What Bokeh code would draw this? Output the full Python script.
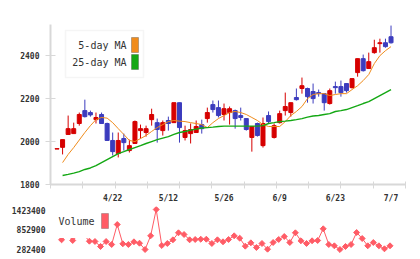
import numpy as np
from bokeh.plotting import figure
from bokeh.layouts import column
from bokeh.models import (ColumnDataSource, FixedTicker, Range1d, Label, LinearAxis,
                          BoxAnnotation, BasicTickFormatter)
from bokeh.embed import file_html
from bokeh.resources import INLINE

# ---- daily prices (trading-day index 0..60) ----
opens = [1965, 1973, 2033, 2037, 2084, 2144, 2135, 2102, 2126, 2084,
         2005, 1944, 2014, 1958, 1991, 2051, 2042, 2102, 2088, 2051,
         2098, 2088, 2181, 2019, 2037, 2042, 2079, 2107, 2172, 2158,
         2126, 2135, 2144, 2121, 2107, 2019, 2084, 1981, 2121, 2019,
         2088, 2144, 2135, 2205, 2247, 2247, 2233, 2228, 2223, 2177,
         2256, 2256, 2270, 2251, 2321, 2386, 2340, 2414, 2456, 2460, 2488]
highs = [1967, 2009, 2121, 2088, 2135, 2195, 2144, 2135, 2135, 2088,
         2042, 2042, 2037, 2009, 2098, 2079, 2074, 2153, 2107, 2098,
         2116, 2181, 2181, 2074, 2084, 2098, 2102, 2158, 2191, 2191,
         2177, 2163, 2149, 2158, 2107, 2070, 2088, 2112, 2140, 2084,
         2144, 2228, 2181, 2247, 2298, 2251, 2270, 2242, 2223, 2247,
         2279, 2284, 2270, 2293, 2386, 2405, 2414, 2474, 2479, 2479, 2540]
lows = [1965, 1940, 2033, 2037, 2074, 2112, 2116, 2084, 2084, 2005,
        1935, 1926, 1958, 1949, 1991, 2014, 2023, 2074, 1995, 2028,
        2051, 2088, 1995, 2005, 1991, 2042, 2037, 2088, 2135, 2112,
        2098, 2079, 2060, 2098, 2051, 1953, 2023, 1972, 2084, 2014,
        2084, 2121, 2116, 2191, 2223, 2181, 2177, 2209, 2144, 2172,
        2223, 2209, 2228, 2247, 2302, 2326, 2340, 2409, 2414, 2437, 2456]
closes = [1967, 2009, 2060, 2060, 2126, 2116, 2124, 2112, 2084, 2005,
          1953, 2005, 1995, 1981, 2093, 2060, 2060, 2126, 2056, 2088,
          2084, 2181, 2065, 2051, 2056, 2070, 2060, 2135, 2149, 2121,
          2153, 2153, 2107, 2112, 2056, 2070, 2028, 2084, 2093, 2074,
          2130, 2163, 2181, 2195, 2260, 2209, 2200, 2223, 2181, 2237,
          2251, 2228, 2237, 2293, 2386, 2330, 2372, 2437, 2460, 2442, 2460]

# moving averages (first day has no value on the chart)
ma5 = [np.nan, 1902, 1940, 1972, 2007, 2042, 2074, 2102, 2112, 2109, 2088,
       2060, 2033, 2005, 2000, 2014, 2028, 2047, 2065, 2079, 2093,
       2098, 2095, 2093, 2088, 2084, 2079, 2065, 2088, 2107, 2121,
       2135, 2140, 2135, 2126, 2112, 2098, 2079, 2070, 2070, 2070,
       2093, 2121, 2140, 2163, 2200, 2219, 2223, 2223, 2214, 2219,
       2223, 2223, 2242, 2260, 2284, 2312, 2363, 2400, 2423, 2442]
ma25 = [np.nan, 1842, 1847, 1853, 1860, 1870, 1877, 1888, 1902, 1916, 1930,
        1944, 1953, 1963, 1972, 1981, 1991, 2000, 2009, 2016, 2023,
        2033, 2042, 2047, 2053, 2058, 2063, 2065, 2067, 2070, 2072,
        2072, 2072, 2072, 2072, 2072, 2072, 2074, 2084, 2088, 2093,
        2095, 2098, 2102, 2107, 2114, 2119, 2121, 2126, 2130, 2140,
        2144, 2149, 2158, 2167, 2177, 2186, 2200, 2214, 2228, 2242]

volumes = [np.nan, 559000, 740000, 539000, 700000, 700000, 519000, 511000, 368000, 511000,
           425000, 995000, 445000, 425000, 502000, 462000, 282400, 673000, 1423400, 397000,
           454000, 559000, 759000, 710000, 559000, 568000, 576000, 576000, 454000, 559000,
           502000, 568000, 673000, 605000, 377000, 473000, 339000, 454000, 291000, 482000,
           568000, 653000, 482000, 759000, 531000, 454000, 531000, 539000, 873000, 425000,
           388000, 282400, 368000, 425000, 767000, 596000, 388000, 482000, 388000, 302000, 388000]

date_ticks = [10, 20, 30, 40, 50, 60]
date_labels = ["4/22", "5/12", "5/26", "6/9", "6/23", "7/7"]
price_ticks = [1800, 2000, 2200, 2400]

RED = "#d60000"
BLUE = "#3c3cbe"
ORANGE = "#f08c1c"
GREEN = "#14a814"
VOL = "#ff5c66"
AXIS = "#d8d8d8"
TXT = "#333333"
MONO = "DejaVu Sans Mono"

n = len(closes)
idx = np.arange(n)
o = np.array(opens, float); c = np.array(closes, float)
src = ColumnDataSource(dict(
    x=idx, o=o, c=c, h=np.array(highs, float), l=np.array(lows, float),
    top=np.maximum(o, c), bottom=np.minimum(o, c),
    color=[RED if cc >= oo else BLUE for oo, cc in zip(o, c)],
    ma5=np.array(ma5, float), ma25=np.array(ma25, float),
))

X0, X1 = -1.17, 62.6
PH = 206  # price panel height

# ---------------- price panel ----------------
p = figure(width=420, height=PH, x_range=Range1d(X0, X1), y_range=Range1d(1800, 2545),
           output_backend="svg", toolbar_location=None,
           min_border_left=50, min_border_right=15, min_border_top=24,
           min_border_bottom=PH - 184)
p.outline_line_color = None
p.xgrid.visible = False
p.ygrid.visible = False

p.segment(x0="x", y0="l", x1="x", y1="h", color="color", line_width=1, source=src)
p.vbar(x="x", top="top", bottom="bottom", width=0.72, fill_color="color",
       line_color="color", line_width=1, source=src)
p.line(x="x", y="ma5", color=ORANGE, line_width=1, source=src)
p.line(x="x", y="ma25", color=GREEN, line_width=1.4, source=src)

# x axis: evenly spaced tick marks only
grid_ticks = list(np.linspace(X0, X1, 12))
xa = p.xaxis[0]
xa.ticker = FixedTicker(ticks=[], minor_ticks=grid_ticks)
xa.major_tick_line_color = None
xa.minor_tick_line_color = AXIS
xa.minor_tick_in = 3
xa.minor_tick_out = 4
xa.axis_line_color = AXIS
xa.axis_line_width = 2
xa.major_label_standoff = 0
xa.major_label_text_font_size = "0px"

# second bottom axis carrying the date labels
xd = LinearAxis(ticker=FixedTicker(ticks=date_ticks),
                major_label_overrides={t: s for t, s in zip(date_ticks, date_labels)},
                axis_line_color=None, major_tick_line_color=None,
                minor_tick_line_color=None, major_tick_in=0, major_tick_out=0,
                major_label_standoff=5, major_label_text_font=MONO,
                major_label_text_font_size="8px", major_label_text_font_style="bold",
                major_label_text_color=TXT)
p.add_layout(xd, "below")

ya = p.yaxis[0]
ya.ticker = FixedTicker(ticks=price_ticks)
ya.major_tick_in = 5
ya.major_tick_out = 5
ya.major_tick_line_color = AXIS
ya.minor_tick_line_color = None
ya.axis_line_color = AXIS
ya.axis_line_width = 2
ya.major_label_standoff = 6
ya.major_label_text_font = MONO
ya.major_label_text_font_size = "8px"
ya.major_label_text_font_style = "bold"
ya.major_label_text_color = TXT

# frame-relative helpers (frame: left 50, bottom 184 on the canvas)
def fx(px):
    return px - 50

def fy(py):
    return 184 - py

p.add_layout(Label(x=fx(8), y=fy(16.5), x_units="screen", y_units="screen",
                   text="7380 07/07 16:56 updated.", text_font=MONO,
                   text_font_size="10px", text_color=TXT, text_baseline="alphabetic"))
p.add_layout(Label(x=fx(413), y=fy(16.5), x_units="screen", y_units="screen",
                   text="(C)https://www.rizumu.net/", text_font=MONO, text_align="right",
                   text_font_size="10px", text_color=TXT, text_baseline="alphabetic"))

# moving-average legend
p.add_layout(BoxAnnotation(left=fx(65), right=fx(143), top=fy(30), bottom=fy(77),
                           left_units="screen", right_units="screen",
                           top_units="screen", bottom_units="screen",
                           fill_color="white", fill_alpha=1,
                           line_color="#dddddd", line_width=1.5))
for txt, ymid, col, ytop in [("5-day MA", 45, ORANGE, 37), ("25-day MA", 62, GREEN, 54)]:
    p.add_layout(Label(x=fx(126), y=fy(ymid), x_units="screen", y_units="screen",
                       text=txt, text_font=MONO, text_font_size="10px",
                       text_color=TXT, text_align="right", text_baseline="middle"))
    p.add_layout(BoxAnnotation(left=fx(131), right=fx(138), top=fy(ytop), bottom=fy(ytop + 15),
                               left_units="screen", right_units="screen",
                               top_units="screen", bottom_units="screen",
                               fill_color=col, fill_alpha=1, line_color="#333333", line_width=1))

# ---------------- volume panel ----------------
VMIN, VMAX = 282400, 1423400
vstep = (VMAX - VMIN) / 40.0          # value per pixel
VTOP = PH                              # page y of the volume frame top
v = figure(width=420, height=259 - PH, x_range=p.x_range,
           y_range=Range1d(VMIN - 6 * vstep, VMAX + (209 - VTOP) * vstep),
           output_backend="svg", toolbar_location=None, x_axis_location=None,
           min_border_left=50, min_border_right=15, min_border_top=0, min_border_bottom=4)
v.outline_line_color = None
v.xgrid.visible = False
v.ygrid.visible = False
v.border_fill_color = None
v.background_fill_color = None

vsrc = ColumnDataSource(dict(x=idx - 0.18, vol=np.array(volumes, float)))
v.line(x="x", y="vol", color=VOL, line_width=1, source=vsrc)
v.scatter(x="x", y="vol", marker="square", angle=np.pi / 4, size=4.2,
          color=VOL, source=vsrc)

vy = v.yaxis[0]
vy.ticker = FixedTicker(ticks=[VMIN, (VMIN + VMAX) / 2, VMAX])
vy.formatter = BasicTickFormatter(use_scientific=False)
vy.axis_line_color = None
vy.major_tick_line_color = None
vy.minor_tick_line_color = None
vy.major_tick_out = 0
vy.major_tick_in = 0
vy.major_label_standoff = 5
vy.major_label_text_font = MONO
vy.major_label_text_font_size = "8px"
vy.major_label_text_font_style = "bold"
vy.major_label_text_color = TXT

# volume legend (frame: left 50, bottom 255 on the page)
def vfy(py):
    return 255 - py

v.add_layout(BoxAnnotation(left=fx(55), right=fx(112), top=vfy(VTOP + 1), bottom=vfy(237.5),
                           left_units="screen", right_units="screen",
                           top_units="screen", bottom_units="screen",
                           fill_color="white", fill_alpha=1, line_color=None))
v.add_layout(Label(x=fx(58), y=vfy(221), x_units="screen", y_units="screen",
                   text="Volume", text_font=MONO, text_font_size="10px",
                   text_color=TXT, text_baseline="middle"))
v.add_layout(BoxAnnotation(left=fx(101), right=fx(108), top=vfy(213), bottom=vfy(228),
                           left_units="screen", right_units="screen",
                           top_units="screen", bottom_units="screen",
                           fill_color=VOL, fill_alpha=1, line_color="#444444", line_width=1))

layout = column(p, v)
open("out.html", "w").write(file_html(layout, INLINE))
